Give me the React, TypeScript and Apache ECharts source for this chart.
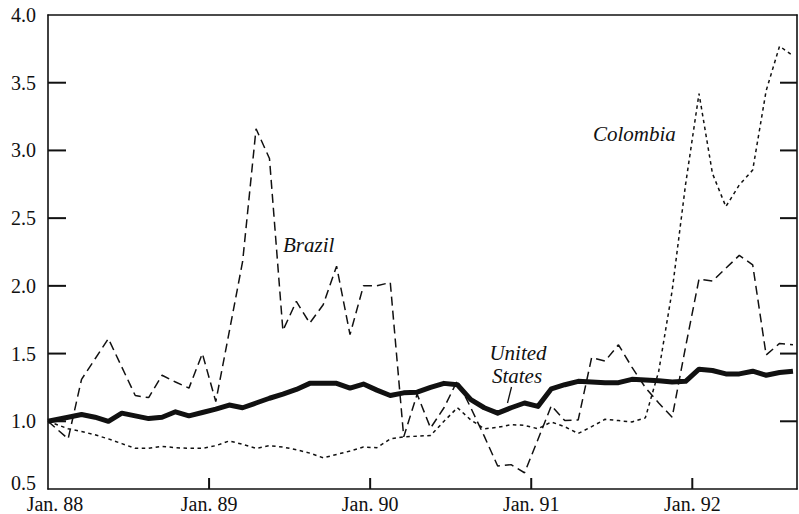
import React, { useEffect, useRef } from "react";
import * as echarts from "echarts";

// month positions (0 = Jan. 88); observations are plotted mid-month
const months = [
  0, 1.5, 2.5, 3.5, 4.5, 5.5, 6.5, 7.5, 8.5, 9.5, 10.5, 11.5, 12.5, 13.5,
  14.5, 15.5, 16.5, 17.5, 18.5, 19.5, 20.5, 21.5, 22.5, 23.5, 24.5, 25.5,
  26.5, 27.5, 28.5, 29.5, 30.5, 31.5, 32.5, 33.5, 34.5, 35.5, 36.5, 37.5,
  38.5, 39.5, 40.5, 41.5, 42.5, 43.5, 44.5, 45.5, 46.5, 47.5, 48.5, 49.5,
  50.5, 51.5, 52.5, 53.5, 54.5, 55.5,
];

const unitedStates = [
  1.0, 1.03, 1.05, 1.03, 1.0, 1.06, 1.04, 1.02, 1.03, 1.07, 1.04, 1.065,
  1.09, 1.12, 1.1, 1.135, 1.17, 1.2, 1.235, 1.28, 1.28, 1.28, 1.245, 1.275,
  1.23, 1.19, 1.21, 1.215, 1.25, 1.28, 1.27, 1.16, 1.1, 1.06, 1.1, 1.135,
  1.11, 1.24, 1.27, 1.295, 1.29, 1.285, 1.285, 1.31, 1.305, 1.3, 1.29, 1.295,
  1.385, 1.375, 1.35, 1.35, 1.37, 1.34, 1.36, 1.37,
];

const brazil = [
  1.0, 0.87, 1.31, 1.46, 1.61, 1.4, 1.19, 1.175, 1.34, 1.29, 1.245, 1.5,
  1.145, 1.66, 2.18, 3.16, 2.94, 1.67, 1.885, 1.725, 1.86, 2.145, 1.64, 2.0,
  2.0, 2.025, 0.885, 1.2, 0.95, 1.1, 1.3, 1.1, 0.89, 0.67, 0.68, 0.62, 0.865,
  1.115, 1.005, 1.01, 1.47, 1.445, 1.565, 1.4, 1.25, 1.135, 1.03, 1.55, 2.05,
  2.035, 2.13, 2.225, 2.155, 1.49, 1.575, 1.565,
];

const colombia = [
  1.0, 0.945, 0.925, 0.9, 0.87, 0.835, 0.8, 0.8, 0.815, 0.805, 0.8, 0.8, 0.82,
  0.855, 0.83, 0.8, 0.82, 0.81, 0.79, 0.765, 0.73, 0.755, 0.78, 0.81, 0.805,
  0.87, 0.885, 0.89, 0.895, 1.0, 1.1, 1.01, 0.945, 0.955, 0.975, 0.97, 0.945,
  0.995, 0.96, 0.91, 0.96, 1.015, 1.005, 0.995, 1.025, 1.37, 1.965, 2.75,
  3.42, 2.83, 2.585, 2.745, 2.855, 3.44, 3.77, 3.7,
];

const xTickLabels = ["Jan. 88", "Jan. 89", "Jan. 90", "Jan. 91", "Jan. 92"];
const xTickMonths = [12, 24, 36, 48];
const yTickValues = [1.0, 1.5, 2.0, 2.5, 3.0, 3.5];

const X_MIN = 0;
const X_MAX = 55.8;
const Y_MIN = 0.5;
const Y_MAX = 4.0;

const FONT = "'Liberation Serif', 'Times New Roman', serif";
const INK = "#111";

function pairs(values: number[]) {
  return values.map((v, i) => [months[i], v]);
}

export default function App() {
  const ref = useRef<HTMLDivElement>(null);

  useEffect(() => {
    document.body.style.margin = "0";
    if (!ref.current) return;
    const chart = echarts.init(ref.current, undefined, { renderer: "svg" });

    const axisLabelStyle = { color: INK, fontFamily: FONT, fontSize: 20 };
    const mkLine = () => ({ color: INK, width: 1.6 });

    const labelText = (text: string, x: number, y: number, align: string) => ({
      type: "text",
      x,
      y,
      z: 10,
      style: {
        text,
        fontFamily: FONT,
        fontStyle: "italic",
        fontSize: 21,
        fill: INK,
        align,
        verticalAlign: "middle",
      },
    });

    chart.setOption({
      animation: false,
      backgroundColor: "#fff",
      grid: { left: 48, right: 2, top: 15, bottom: 24 },
      xAxis: [
        {
          type: "value",
          position: "bottom",
          min: X_MIN,
          max: X_MAX,
          interval: 12,
          splitLine: { show: false },
          axisLine: { show: true, onZero: false, lineStyle: mkLine() },
          axisTick: { show: false },
          axisLabel: {
            ...axisLabelStyle,
            margin: 5,
            showMaxLabel: false,
            formatter: (v: number) => {
              if (v % 12 !== 0) return "";
              const i = v / 12;
              if (i === 0) return "{first|" + xTickLabels[0] + "}";
              return xTickLabels[i] ?? "";
            },
            rich: {
              first: { ...axisLabelStyle, padding: [0, 0, 0, 14] },
            },
          },
        },
        {
          type: "value",
          position: "top",
          min: X_MIN,
          max: X_MAX,
          interval: 12,
          splitLine: { show: false },
          axisLine: { show: true, onZero: false, lineStyle: mkLine() },
          axisTick: { show: false },
          axisLabel: { show: false },
        },
      ],
      yAxis: [
        {
          type: "value",
          min: Y_MIN,
          max: Y_MAX,
          interval: 0.5,
          splitLine: { show: false },
          axisLine: { show: true, onZero: false, lineStyle: mkLine() },
          axisTick: { show: false },
          axisLabel: {
            ...axisLabelStyle,
            margin: 12,
            formatter: (v: number) =>
              v === 0.5 ? "{lo|" + v.toFixed(1) + "}" : v.toFixed(1),
            rich: {
              lo: { ...axisLabelStyle, padding: [0, 0, 12, 0] },
            },
          },
        },
        {
          type: "value",
          position: "right",
          min: Y_MIN,
          max: Y_MAX,
          interval: 0.5,
          splitLine: { show: false },
          axisLine: { show: true, onZero: false, lineStyle: mkLine() },
          axisTick: { show: false },
          axisLabel: { show: false },
        },
      ],
      series: [
        {
          name: "Colombia",
          type: "line",
          data: pairs(colombia),
          showSymbol: false,
          symbol: "none",
          lineStyle: { color: INK, width: 1.5, type: [3.5, 3.5] },
        },
        {
          name: "Brazil",
          type: "line",
          data: pairs(brazil),
          showSymbol: false,
          symbol: "none",
          lineStyle: { color: INK, width: 1.5, type: [9, 5] },
        },
        {
          name: "United States",
          type: "line",
          data: pairs(unitedStates),
          showSymbol: false,
          symbol: "none",
          lineStyle: { color: INK, width: 5, join: "round" },
        },
        {
          // inward tick marks on the left and right value axes
          name: "yTicks",
          type: "custom",
          silent: true,
          clip: false,
          z: 5,
          data: yTickValues.map((v) => [X_MIN, v]),
          renderItem: (_params: any, api: any) => {
            const v = api.value(1);
            const pl = api.coord([X_MIN, v]);
            const pr = api.coord([X_MAX, v]);
            return {
              type: "group",
              children: [
                {
                  type: "rect",
                  shape: { x: pl[0], y: pl[1] - 1, width: 18, height: 2 },
                  style: { fill: INK },
                },
                {
                  type: "rect",
                  shape: { x: pr[0] - 17, y: pr[1] - 1, width: 17, height: 2 },
                  style: { fill: INK },
                },
              ],
            };
          },
        },
        {
          // inward tick marks on the time axis
          name: "xTicks",
          type: "custom",
          silent: true,
          clip: false,
          z: 5,
          data: xTickMonths.map((m) => [m, Y_MIN]),
          renderItem: (_params: any, api: any) => {
            const p = api.coord([api.value(0), Y_MIN]);
            return {
              type: "rect",
              shape: { x: p[0] - 1, y: p[1] - 11, width: 2, height: 11 },
              style: { fill: INK },
            };
          },
        },
      ],
      graphic: [
        labelText("Brazil", 283, 245, "left"),
        labelText("Colombia", 593, 134, "left"),
        labelText("United", 518, 353, "center"),
        labelText("States", 517, 376, "center"),
        {
          type: "line",
          z: 10,
          shape: { x1: 511.5, y1: 387, x2: 507.5, y2: 403 },
          style: { stroke: INK, lineWidth: 1.3 },
        },
      ],
    });

    return () => chart.dispose();
  }, []);

  return <div ref={ref} style={{ width: 799, height: 514 }} />;
}
